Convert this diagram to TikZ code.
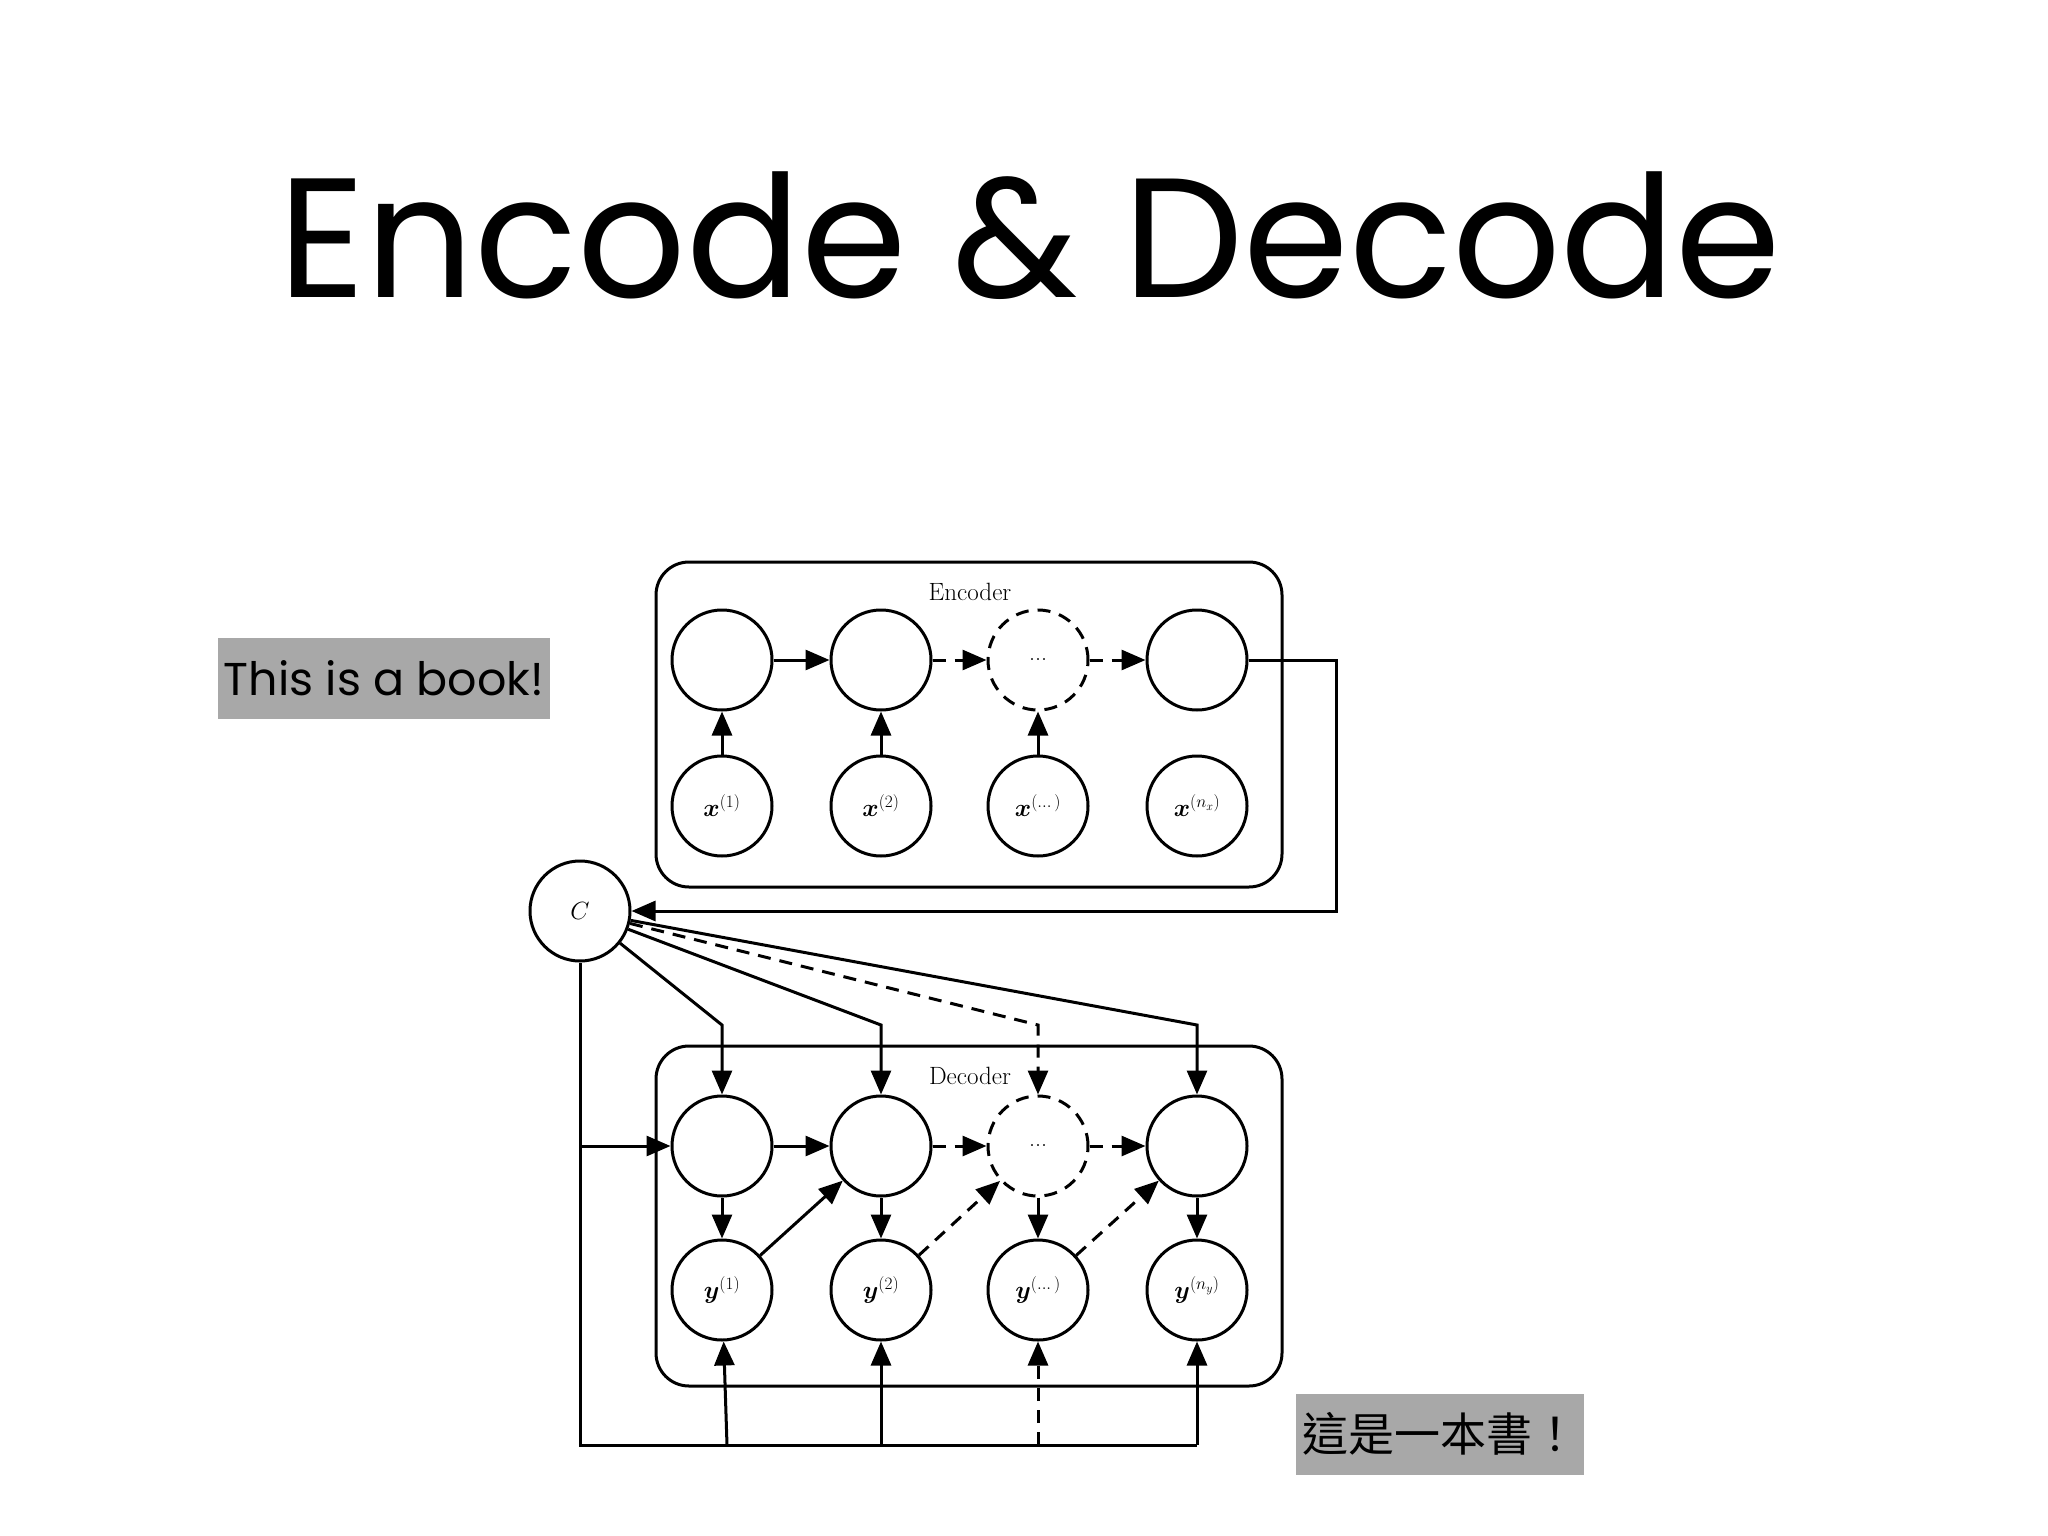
\documentclass[tikz,border=0pt]{standalone}
\usepackage{amsmath,bm}
\usepackage{fontspec}
\newfontfamily\titlefont{Poppins}
\newfontfamily\cjkfont{Noto Sans CJK TC}
\usetikzlibrary{arrows.meta}
\begin{document}
\begin{tikzpicture}[x=1pt,y=-1pt,
  every path/.style={line width=3pt},
  tip/.style={-{Triangle[length=24pt,width=20pt]}},
  dsh/.style={dash pattern=on 13pt off 9pt},
  cir/.style={circle,draw,line width=3pt,minimum size=100pt,inner sep=0pt,font=\fontsize{24}{28}\selectfont},
  grp/.style={draw,line width=3pt,rounded corners=33pt},
  lbl/.style={font=\fontsize{25}{30}\selectfont},
  tag/.style={fill=black!34,inner sep=6pt,font=\fontsize{46}{52}\selectfont}]
\useasboundingbox (0,0) rectangle (2048,1536);
\node[font=\titlefont\fontsize{170}{180}\selectfont] (title) at (1030,236) {Encode \& Decode};
% groups
\node[grp,minimum width=626pt,minimum height=325pt] (enc) at (969,724.5) {};
\node[grp,minimum width=626pt,minimum height=340pt] (dec) at (969,1216) {};
\node[lbl] (enclbl) at (970,592) {Encoder};
\node[lbl] (declbl) at (970,1076) {Decoder};
% encoder
\node[cir] (e1) at (722,660) {};
\node[cir] (e2) at (881,660) {};
\node[cir,dsh] (e3) at (1038,660) {...};
\node[cir] (e4) at (1197,660) {};
\node[cir] (x1) at (722,806) {$\bm{x}^{(1)}$};
\node[cir] (x2) at (881,806) {$\bm{x}^{(2)}$};
\node[cir] (x3) at (1038,806) {$\bm{x}^{(\dots)}$};
\node[cir] (x4) at (1197,806) {$\bm{x}^{(n_x)}$};
\draw[tip] (e1) -- (e2);
\draw[tip,dsh] (e2) -- (e3);
\draw[tip,dsh] (e3) -- (e4);
\draw[tip] (x1) -- (e1);
\draw[tip] (x2) -- (e2);
\draw[tip] (x3) -- (e3);
% C
\node[cir] (C) at (580,911) {$C$};
\coordinate (fb1) at (1336,660);
\coordinate (fb2) at (1336,911);
\draw[tip] (e4.east) -- (fb1) -- (fb2) -- (C.east);
% decoder
\node[cir] (d1) at (722,1146) {};
\node[cir] (d2) at (881,1146) {};
\node[cir,dsh] (d3) at (1038,1146) {...};
\node[cir] (d4) at (1197,1146) {};
\node[cir] (y1) at (722,1290) {$\bm{y}^{(1)}$};
\node[cir] (y2) at (881,1290) {$\bm{y}^{(2)}$};
\node[cir] (y3) at (1038,1290) {$\bm{y}^{(\dots)}$};
\node[cir] (y4) at (1197,1290) {$\bm{y}^{(n_y)}$};
\draw[tip] (d1) -- (d2);
\draw[tip,dsh] (d2) -- (d3);
\draw[tip,dsh] (d3) -- (d4);
\draw[tip] (d1) -- (y1);
\draw[tip] (d2) -- (y2);
\draw[tip] (d3) -- (y3);
\draw[tip] (d4) -- (y4);
\draw[tip] (y1) -- (d2);
\draw[tip,dsh] (y2) -- (d3);
\draw[tip,dsh] (y3) -- (d4);
% C to decoder tops
\coordinate (k1) at (722,1025);
\coordinate (k2) at (881,1025);
\coordinate (k3) at (1038,1025);
\coordinate (k4) at (1197,1025);
\draw[tip] (C) -- (k1) -- (d1);
\draw[tip] (C) -- (k2) -- (d2);
\draw[tip,dsh] (C) -- (k3) -- (d3);
\draw[tip] (C) -- (k4) -- (d4);
% C down and bottom bus
\coordinate (cl) at (580,1146);
\coordinate (cb) at (580,1445);
\coordinate (b1) at (727,1445);
\coordinate (b2) at (881,1445);
\coordinate (b3) at (1038,1445);
\coordinate (b4) at (1197,1445);
\draw (C.south) -- (cb) -- (b4);
\draw[tip] (cl) -- (d1);
\draw[tip] (b1) -- (y1);
\draw[tip] (b2) -- (y2);
\draw[tip,dsh] (b3) -- (y3);
\draw[tip] (b4) -- (y4);
% tags
\node[tag,minimum width=332pt,minimum height=81pt] (en) at (384,678) {\titlefont This is a book!};
\node[tag,minimum width=287pt,minimum height=81pt] (zh) at (1440,1434) {\cjkfont 這是一本書！};
\end{tikzpicture}
\end{document}
